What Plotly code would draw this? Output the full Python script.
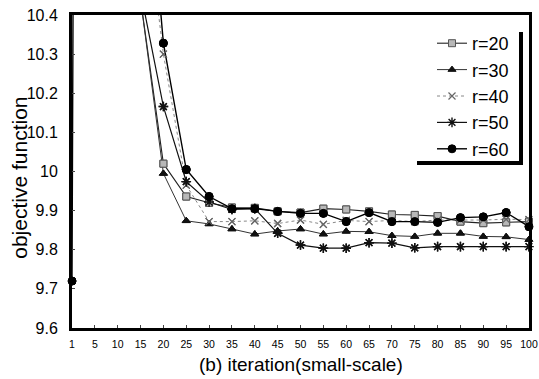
import plotly.graph_objects as go

categories = ["1", "5", "10", "15", "20", "25", "30", "35", "40", "45", "50",
              "55", "60", "65", "70", "75", "80", "85", "90", "95", "100"]

r20 = [11.9, 11.3, 10.9, 10.44, 10.02, 9.936, 9.92, 9.908, 9.907, 9.898, 9.895,
       9.905, 9.903, 9.898, 9.89, 9.889, 9.886, 9.872, 9.868, 9.87, 9.872]
r30 = [12.0, 11.4, 10.95, 10.44, 9.995, 9.874, 9.866, 9.853, 9.84, 9.848, 9.853,
       9.84, 9.847, 9.846, 9.836, 9.834, 9.842, 9.842, 9.834, 9.833, 9.826]
r40 = [12.2, 11.6, 11.1, 10.78, 10.30, 9.965, 9.872, 9.872, 9.874, 9.867, 9.876,
       9.865, 9.875, 9.872, 9.875, 9.872, 9.876, 9.876, 9.876, 9.878, 9.877]
r50 = [12.1, 11.5, 11.0, 10.46, 10.166, 9.974, 9.922, 9.903, 9.905, 9.842, 9.812,
       9.804, 9.804, 9.818, 9.817, 9.805, 9.808, 9.808, 9.808, 9.808, 9.808]
r60 = [9.72, 25.0, 14.0, 11.0, 10.328, 10.005, 9.936, 9.905, 9.905, 9.898, 9.893,
       9.893, 9.872, 9.895, 9.872, 9.872, 9.87, 9.882, 9.884, 9.895, 9.859]

y_min, y_max = 9.6, 10.4
FONT = "Liberation Sans, Arial, sans-serif"

styles = [
    ("r=20", r20, dict(color="#222", width=1.1, dash="solid"),
     dict(symbol="square", size=7, color="#b8b8b8", line=dict(color="#555", width=1))),
    ("r=30", r30, dict(color="#333", width=1.0, dash="solid"),
     dict(symbol="triangle-up", size=7, color="#111", line=dict(color="#111", width=1))),
    ("r=40", r40, dict(color="#888", width=1.0, dash="dot"),
     dict(symbol="x-thin-open", size=7, color="#666", line=dict(color="#666", width=1.2))),
    ("r=50", r50, dict(color="#111", width=1.2, dash="solid"),
     dict(symbol="asterisk-open", size=8, color="#111", line=dict(color="#111", width=1.4))),
    ("r=60", r60, dict(color="#000", width=1.4, dash="solid"),
     dict(symbol="circle", size=8, color="#000", line=dict(color="#000", width=1))),
]

L, R, T, B = 72, 10, 15, 51
W, H = 539, 379
PW = W - L - R
PH = H - T - B


def px_x(x):
    return (x - L) / PW


def px_y(y):
    return (H - B - y) / PH


xs = list(range(len(categories)))
fig = go.Figure()
for name, vals, ln, mk in styles:
    fig.add_trace(go.Scatter(x=xs, y=vals, name=name, mode="lines+markers",
                             line=ln, marker=mk, cliponaxis=True))
for name, vals, ln, mk in styles:
    vis = [v if y_min <= v <= y_max else None for v in vals]
    fig.add_trace(go.Scatter(x=xs, y=vis, name=name, mode="markers", marker=mk,
                             showlegend=False, cliponaxis=False, hoverinfo="skip"))

fig.update_layout(
    width=W, height=H,
    margin=dict(l=L, r=R, t=T, b=B, autoexpand=False),
    paper_bgcolor="white", plot_bgcolor="white",
    font=dict(family=FONT, color="#000"),
    showlegend=True,
    legend=dict(x=px_x(432), y=px_y(25), xanchor="left", yanchor="top",
                bgcolor="rgba(255,255,255,0)", borderwidth=0,
                font=dict(size=18, family=FONT), tracegroupgap=0),
)

fig.update_xaxes(
    range=[0, len(categories) - 1], automargin=False,
    tickmode="array", tickvals=xs, ticktext=categories,
    tickfont=dict(size=10.5, family=FONT), ticks="inside", ticklen=3,
    ticklabelstandoff=4, ticklabeloverflow="allow",
    showline=True, linewidth=3, linecolor="#000", mirror=True,
    showgrid=False, zeroline=False,
)
fig.update_yaxes(
    range=[y_min, y_max], dtick=0.1, tick0=9.6, automargin=False,
    tickfont=dict(size=16, family=FONT), ticks="inside", ticklen=3,
    ticklabelstandoff=8, ticklabeloverflow="allow",
    showline=True, linewidth=3, linecolor="#000", mirror=True,
    showgrid=False, zeroline=False,
)

# axis titles
fig.add_annotation(text="objective function", xref="paper", yref="paper",
                   x=px_x(20), y=0.48, xanchor="center", yanchor="middle",
                   textangle=-90, showarrow=False, font=dict(size=21, family=FONT))
fig.add_annotation(text="(b) iteration(small-scale)", xref="paper", yref="paper",
                   x=0.5, y=px_y(364), xanchor="center", yanchor="middle",
                   showarrow=False, font=dict(size=19, family=FONT))

# legend shadow (right and bottom edges)
fig.add_shape(type="line", xref="paper", yref="paper", x0=px_x(521), x1=px_x(521),
              y0=px_y(32), y1=px_y(163), line=dict(color="#000", width=4))
fig.add_shape(type="line", xref="paper", yref="paper", x0=px_x(417), x1=px_x(523),
              y0=px_y(163), y1=px_y(163), line=dict(color="#000", width=4))

fig.write_html("out.html")
